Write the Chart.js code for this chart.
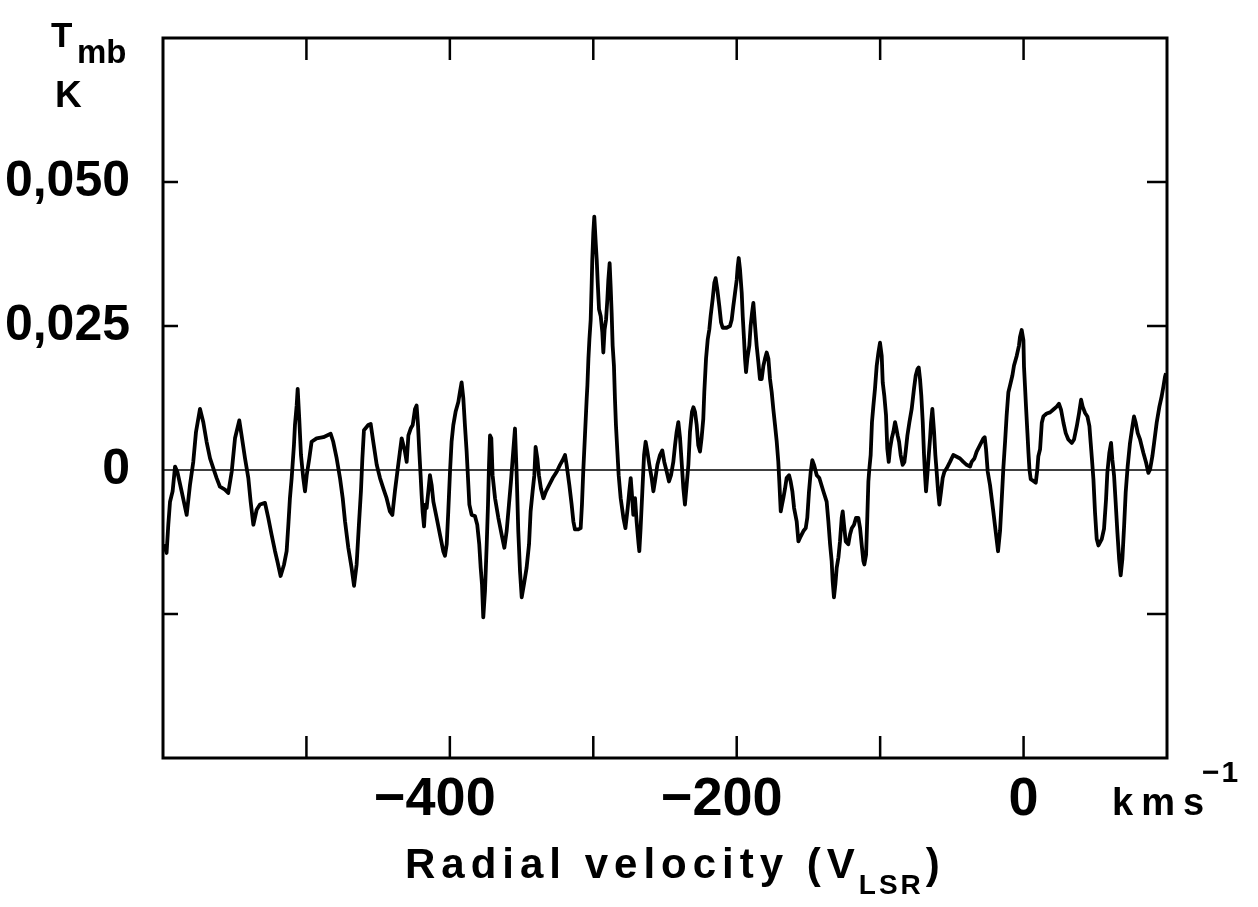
<!DOCTYPE html>
<html>
<head>
<meta charset="utf-8">
<title>Tmb spectrum</title>
<script src="https://cdn.jsdelivr.net/npm/chart.js@4.4.1/dist/chart.umd.min.js"></script>
<style>
  html, body { margin: 0; padding: 0; background: #fff; }
  canvas { display: block; }
</style>
</head>
<body>
<canvas id="spectrum" width="1258" height="907"></canvas>
<script>
// radial velocity (km/s) and main beam temperature (K)
const velocity = [
  -599.3, -597.5, -596.3, -595.1, -593.3, -591.6, -590.0, -587.0, -583.5, -581.2,
  -578.9, -577.0, -574.2, -571.9, -569.6, -567.2, -564.9, -562.6, -560.3, -556.8,
  -554.5, -552.1, -549.8, -546.8, -545.2, -542.8, -540.5, -538.9, -537.0, -534.7,
  -532.4, -528.9, -526.6, -524.3, -521.9, -520.3, -518.0, -515.6, -513.8, -512.6,
  -511.5, -510.3, -508.7, -508.0, -506.8, -506.1, -505.0, -503.8, -502.2, -501.0,
  -499.8, -498.0, -496.4, -492.9, -488.2, -483.1, -481.3, -478.9, -476.6, -474.7,
  -473.1, -470.8, -468.5, -466.8, -465.0, -463.4, -462.0, -461.0, -459.9, -456.9,
  -455.2, -453.4, -451.0, -448.7, -446.4, -444.1, -441.8, -440.1, -438.3, -436.6,
  -434.8, -433.6, -432.4, -431.3, -430.1, -428.9, -427.3, -425.9, -424.3, -423.2,
  -422.2, -421.3, -420.4, -419.7, -419.0, -418.0, -417.1, -416.2, -415.0, -413.9,
  -412.7, -411.5, -409.2, -406.9, -404.6, -403.4, -402.2, -401.1, -399.9, -398.8,
  -397.6, -396.0, -394.1, -393.0, -391.8, -390.6, -389.5, -388.3, -387.1, -386.4,
  -384.8, -382.5, -380.9, -379.5, -378.5, -377.6, -376.7, -375.5, -374.3, -373.4,
  -372.7, -372.0, -371.1, -370.2, -368.5, -366.2, -363.9, -362.0, -360.4, -358.8,
  -357.4, -356.2, -354.6, -353.4, -352.3, -351.1, -349.9, -348.3, -346.5, -344.8,
  -343.7, -342.3, -341.1, -340.2, -339.0, -337.9, -336.5, -334.8, -333.0, -330.7,
  -328.3, -325.5, -323.2, -321.4, -319.7, -318.6, -316.7, -315.1, -313.9, -312.8,
  -310.4, -308.8, -307.9, -307.0, -305.8, -304.6, -304.1, -303.4, -302.7, -301.8,
  -301.1, -300.7, -300.0, -299.3, -298.3, -297.6, -296.9, -296.0, -294.8, -293.7,
  -293.0, -292.1, -291.1, -290.2, -289.5, -288.6, -287.9, -287.2, -286.5, -285.6,
  -284.9, -284.2, -283.2, -282.3, -280.9, -279.0, -277.6, -276.0, -274.9, -273.9,
  -273.2, -272.1, -270.9, -269.8, -268.4, -267.9, -267.0, -265.8, -264.6, -263.5,
  -262.3, -260.9, -259.3, -258.1, -257.0, -255.3, -253.5, -251.9, -250.5, -248.8,
  -247.2, -245.8, -244.2, -243.0, -241.9, -240.7, -239.5, -238.4, -237.2, -236.1,
  -234.9, -233.7, -232.6, -231.2, -230.2, -229.1, -227.9, -226.8, -225.6, -224.5,
  -223.3, -222.6, -221.4, -220.2, -219.1, -218.2, -216.8, -215.6, -214.7, -213.5,
  -212.1, -210.9, -209.8, -207.0, -204.7, -203.5, -202.4, -201.2, -200.0, -199.3,
  -198.6, -197.7, -196.5, -195.8, -194.9, -194.2, -193.5, -192.6, -191.2, -190.3,
  -189.3, -188.4, -187.2, -186.1, -184.9, -183.8, -182.6, -181.4, -180.3, -179.1,
  -177.9, -176.8, -175.6, -174.5, -173.3, -172.1, -171.0, -170.3, -169.3, -168.4,
  -167.5, -166.3, -165.2, -163.5, -162.4, -161.2, -160.0, -158.2, -157.0, -155.9,
  -153.5, -151.9, -150.8, -149.6, -148.4, -147.3, -146.1, -144.2, -142.4, -139.6,
  -137.3, -136.1, -134.9, -133.8, -133.1, -132.2, -131.2, -130.3, -129.1, -128.0,
  -126.8, -126.1, -125.2, -124.0, -122.2, -121.0, -119.8, -118.2, -116.8, -115.2,
  -114.0, -112.9, -111.7, -111.0, -109.8, -108.9, -108.2, -107.5, -106.6, -105.7,
  -104.7, -103.6, -102.4, -101.2, -100.1, -98.9, -98.2, -97.1, -95.9, -95.0,
  -94.0, -93.1, -91.9, -90.8, -89.6, -88.9, -87.8, -86.8, -85.7, -84.3,
  -83.1, -82.2, -81.0, -79.6, -78.0, -76.4, -75.2, -74.0, -73.1, -72.2,
  -71.3, -70.3, -69.4, -68.7, -68.0, -67.1, -66.1, -65.2, -64.5, -63.6,
  -62.4, -61.5, -60.6, -59.6, -58.7, -57.5, -56.4, -55.2, -53.6, -51.3,
  -49.0, -46.6, -44.3, -42.0, -39.7, -37.3, -36.2, -34.3, -32.7, -30.4,
  -28.0, -27.1, -26.2, -25.0, -23.4, -21.1, -19.2, -17.8, -16.4, -15.3,
  -14.1, -12.9, -11.8, -10.6, -9.4, -7.8, -6.7, -4.8, -3.2, -2.5,
  -1.3, -0.1, 0.3, 1.0, 1.7, 2.7, 3.4, 4.1, 5.0, 6.8,
  8.5, 9.6, 10.3, 11.5, 12.7, 13.8, 16.1, 18.5, 20.8, 23.1,
  24.7, 26.1, 27.8, 29.4, 31.2, 33.6, 35.2, 37.1, 38.7, 40.1,
  41.2, 42.9, 44.5, 45.9, 46.8, 47.7, 48.7, 49.8, 51.0, 52.2,
  54.5, 56.1, 57.5, 58.4, 59.8, 61.0, 61.9, 63.1, 64.2, 65.4,
  66.6, 67.7, 68.9, 70.1, 71.2, 72.6, 74.2, 75.9, 77.0, 78.2,
  79.6, 81.2, 83.5, 85.4, 87.0, 88.2, 89.8, 91.0, 92.8, 94.7,
  96.3, 97.5, 98.6, 99.3
];

const tmb = [
  -0.0129, -0.0144, -0.0095, -0.0055, -0.0037, 0.0006, -0.0003, -0.0037, -0.0078, -0.0026,
  0.0014, 0.0066, 0.0106, 0.0083, 0.0049, 0.0020, 0.0003, -0.0014, -0.0029, -0.0034,
  -0.0040, -0.0003, 0.0055, 0.0086, 0.0060, 0.0020, -0.0014, -0.0055, -0.0095, -0.0069,
  -0.0060, -0.0057, -0.0083, -0.0112, -0.0141, -0.0158, -0.0184, -0.0164, -0.0141, -0.0095,
  -0.0049, -0.0014, 0.0043, 0.0078, 0.0112, 0.0141, 0.0089, 0.0026, -0.0014, -0.0037,
  -0.0009, 0.0020, 0.0049, 0.0055, 0.0057, 0.0063, 0.0049, 0.0020, -0.0014, -0.0049,
  -0.0089, -0.0135, -0.0170, -0.0201, -0.0164, -0.0095, -0.0037, 0.0020, 0.0069, 0.0078,
  0.0080, 0.0049, 0.0009, -0.0014, -0.0032, -0.0049, -0.0072, -0.0078, -0.0037, -0.0003,
  0.0032, 0.0055, 0.0043, 0.0032, 0.0014, 0.0060, 0.0072, 0.0078, 0.0106, 0.0112,
  0.0078, 0.0032, -0.0009, -0.0043, -0.0072, -0.0098, -0.0060, -0.0066, -0.0037, -0.0009,
  -0.0026, -0.0055, -0.0083, -0.0112, -0.0141, -0.0149, -0.0129, -0.0072, -0.0003, 0.0049,
  0.0078, 0.0101, 0.0118, 0.0135, 0.0152, 0.0124, 0.0078, 0.0032, -0.0026, -0.0060,
  -0.0078, -0.0080, -0.0095, -0.0129, -0.0170, -0.0198, -0.0256, -0.0210, -0.0129, -0.0060,
  0.0009, 0.0060, 0.0055, -0.0009, -0.0049, -0.0083, -0.0112, -0.0135, -0.0106, -0.0060,
  -0.0020, 0.0020, 0.0072, -0.0009, -0.0106, -0.0175, -0.0221, -0.0198, -0.0170, -0.0129,
  -0.0072, -0.0037, -0.0009, 0.0040, 0.0020, -0.0009, -0.0032, -0.0049, -0.0037, -0.0026,
  -0.0014, -0.0003, 0.0009, 0.0017, 0.0026, 0.0009, -0.0026, -0.0060, -0.0089, -0.0103,
  -0.0103, -0.0101, -0.0060, -0.0003, 0.0060, 0.0124, 0.0147, 0.0193, 0.0227, 0.0261,
  0.0325, 0.0365, 0.0411, 0.0440, 0.0394, 0.0365, 0.0325, 0.0279, 0.0267, 0.0239,
  0.0204, 0.0244, 0.0261, 0.0296, 0.0330, 0.0359, 0.0319, 0.0273, 0.0216, 0.0181,
  0.0124, 0.0078, 0.0032, -0.0009, -0.0049, -0.0083, -0.0101, -0.0066, -0.0037, -0.0014,
  -0.0037, -0.0078, -0.0049, -0.0089, -0.0129, -0.0141, -0.0101, -0.0037, 0.0026, 0.0049,
  0.0032, 0.0009, -0.0014, -0.0037, -0.0020, 0.0009, 0.0026, 0.0034, 0.0014, -0.0003,
  -0.0020, -0.0009, 0.0014, 0.0043, 0.0066, 0.0083, 0.0055, 0.0014, -0.0032, -0.0060,
  -0.0026, 0.0009, 0.0066, 0.0101, 0.0109, 0.0101, 0.0078, 0.0043, 0.0032, 0.0055,
  0.0089, 0.0135, 0.0193, 0.0227, 0.0244, 0.0267, 0.0296, 0.0325, 0.0333, 0.0313,
  0.0284, 0.0256, 0.0247, 0.0247, 0.0250, 0.0261, 0.0284, 0.0307, 0.0330, 0.0353,
  0.0368, 0.0348, 0.0307, 0.0267, 0.0227, 0.0193, 0.0170, 0.0193, 0.0216, 0.0250,
  0.0273, 0.0290, 0.0250, 0.0216, 0.0187, 0.0158, 0.0158, 0.0181, 0.0193, 0.0204,
  0.0193, 0.0158, 0.0135, 0.0106, 0.0078, 0.0049, 0.0014, -0.0020, -0.0072, -0.0060,
  -0.0049, -0.0032, -0.0014, -0.0009, -0.0020, -0.0037, -0.0066, -0.0089, -0.0124, -0.0118,
  -0.0106, -0.0101, -0.0083, -0.0037, -0.0003, 0.0017, 0.0009, -0.0009, -0.0014, -0.0037,
  -0.0055, -0.0089, -0.0129, -0.0158, -0.0193, -0.0221, -0.0198, -0.0170, -0.0152, -0.0124,
  -0.0083, -0.0072, -0.0095, -0.0124, -0.0129, -0.0112, -0.0101, -0.0095, -0.0083, -0.0083,
  -0.0101, -0.0129, -0.0158, -0.0164, -0.0147, -0.0078, -0.0020, 0.0003, 0.0026, 0.0083,
  0.0112, 0.0141, 0.0181, 0.0204, 0.0221, 0.0198, 0.0152, 0.0129, 0.0095, 0.0037,
  0.0014, 0.0037, 0.0055, 0.0066, 0.0083, 0.0075, 0.0060, 0.0049, 0.0026, 0.0009,
  0.0014, 0.0032, 0.0060, 0.0083, 0.0106, 0.0141, 0.0164, 0.0175, 0.0178, 0.0158,
  0.0129, 0.0083, 0.0026, -0.0009, -0.0037, -0.0009, 0.0026, 0.0055, 0.0083, 0.0106,
  0.0066, 0.0026, -0.0003, -0.0037, -0.0060, -0.0037, -0.0014, -0.0003, 0.0003, 0.0014,
  0.0026, 0.0023, 0.0020, 0.0014, 0.0009, 0.0006, 0.0014, 0.0020, 0.0032, 0.0043,
  0.0055, 0.0057, 0.0037, -0.0003, -0.0026, -0.0072, -0.0112, -0.0141, -0.0106, -0.0055,
  0.0003, 0.0049, 0.0095, 0.0135, 0.0147, 0.0164, 0.0181, 0.0198, 0.0216, 0.0231,
  0.0243, 0.0225, 0.0179, 0.0145, 0.0110, 0.0064, 0.0030, 0.0001, -0.0016, -0.0019,
  -0.0022, 0.0001, 0.0024, 0.0036, 0.0082, 0.0093, 0.0098, 0.0100, 0.0105, 0.0110,
  0.0115, 0.0105, 0.0082, 0.0064, 0.0053, 0.0047, 0.0053, 0.0076, 0.0099, 0.0122,
  0.0110, 0.0099, 0.0093, 0.0076, 0.0047, 0.0018, -0.0016, -0.0073, -0.0120, -0.0131,
  -0.0120, -0.0102, -0.0051, -0.0005, 0.0030, 0.0047, 0.0018, -0.0010, -0.0056, -0.0108,
  -0.0154, -0.0183, -0.0154, -0.0097, -0.0039, 0.0007, 0.0047, 0.0076, 0.0093, 0.0082,
  0.0064, 0.0053, 0.0030, 0.0013, -0.0005, 0.0001, 0.0024, 0.0047, 0.0082, 0.0110,
  0.0128, 0.0145, 0.0162, 0.0168
];

// axes
const xTickValues = [-500, -400, -300, -200, -100, 0];
const xLabelValues = [-400, -200, 0];
const xLabelTexts = ['\u2212400', '\u2212200', '0'];
const yTickValues = [0.05, 0.025, -0.025];
const yLabelValues = [0.05, 0.025, 0];
const yLabelTexts = ['0,050', '0,025', '0'];

const FONT = '"Liberation Sans", Arial, Helvetica, sans-serif';

const points = velocity.map((v, i) => ({ x: v, y: tmb[i] }));
const baseline = [{ x: -600, y: 0 }, { x: 100, y: 0 }];

// frame, inward ticks and the axis titles
const framePlugin = {
    id: 'frame',
    afterDatasetsDraw(chart) {
        const ctx = chart.ctx;
        const { left, right, top, bottom } = chart.chartArea;
        const xs = chart.scales.x;
        const ys = chart.scales.y;
        ctx.save();
        ctx.strokeStyle = '#000';
        ctx.lineWidth = 3;
        ctx.strokeRect(left, top, right - left, bottom - top);

        ctx.lineWidth = 2.5;
        ctx.beginPath();
        xTickValues.forEach(v => {
            const px = xs.getPixelForValue(v);
            ctx.moveTo(px, bottom); ctx.lineTo(px, bottom - 22);
            ctx.moveTo(px, top); ctx.lineTo(px, top + 22);
        });
        yTickValues.forEach(t => {
            const py = ys.getPixelForValue(t);
            ctx.moveTo(left, py); ctx.lineTo(left + 15, py);
            ctx.moveTo(right, py); ctx.lineTo(right - 20, py);
        });
        ctx.stroke();

        ctx.fillStyle = '#000';
        ctx.textBaseline = 'alphabetic';
        ctx.textAlign = 'left';

        // T_mb / K
        ctx.font = 'bold 35px ' + FONT;
        ctx.fillText('T', 51, 47);
        ctx.font = 'bold 33px ' + FONT;
        ctx.fillText('mb', 77, 63);
        ctx.font = 'bold 37px ' + FONT;
        ctx.fillText('K', 55, 107);

        // km s^-1
        ctx.letterSpacing = '8px';
        ctx.font = 'bold 38px ' + FONT;
        ctx.fillText('kms', 1112, 815);
        ctx.letterSpacing = '2px';
        ctx.font = 'bold 30px ' + FONT;
        ctx.fillText('\u22121', 1202, 782);

        // Radial velocity (V_LSR)
        ctx.letterSpacing = '6px';
        ctx.font = 'bold 42px ' + FONT;
        const main = 'Radial velocity (V';
        ctx.fillText(main, 405, 878);
        let x = 405 + ctx.measureText(main).width;
        ctx.letterSpacing = '3px';
        ctx.font = 'bold 28px ' + FONT;
        ctx.fillText('LSR', x - 2, 894);
        x += ctx.measureText('LSR').width - 2;
        ctx.letterSpacing = '0px';
        ctx.font = 'bold 42px ' + FONT;
        ctx.fillText(')', x + 2, 878);
        ctx.restore();
    }
};

new Chart(document.getElementById('spectrum'), {
    type: 'line',
    data: {
        datasets: [
            {
                data: points,
                borderColor: '#000',
                borderWidth: 3.8,
                borderJoinStyle: 'round',
                pointRadius: 0,
                tension: 0,
                fill: false
            },
            {
                data: baseline,
                borderColor: '#000',
                borderWidth: 1.5,
                pointRadius: 0,
                fill: false
            }
        ]
    },
    options: {
        responsive: false,
        animation: false,
        devicePixelRatio: 1,
        layout: { padding: { top: 38, right: 91, left: 0, bottom: 0 } },
        plugins: { legend: { display: false }, tooltip: { enabled: false } },
        scales: {
            x: {
                type: 'linear',
                min: -600,
                max: 100,
                afterFit(scale) {
                    scale.height = 149;
                    scale.paddingLeft = 0;
                    scale.paddingRight = 0;
                },
                grid: { display: false, drawTicks: false },
                border: { display: false },
                ticks: {
                    stepSize: 100,
                    autoSkip: false,
                    maxRotation: 0,
                    padding: 10,
                    color: '#000',
                    font: { family: FONT, size: 54, weight: 'bold' },
                    callback(value) {
                        const i = xLabelValues.indexOf(value);
                        if (i < 0) return '';
                        const t = xLabelTexts[i];
                        // pad so the digits, not the minus sign, sit on the tick
                        return t.startsWith('\u2212') ? t + '  ' : t;
                    }
                }
            },
            y: {
                type: 'linear',
                min: -0.05,
                max: 0.075,
                afterFit(scale) {
                    scale.width = 163;
                    scale.paddingTop = 0;
                    scale.paddingBottom = 0;
                },
                grid: { display: false, drawTicks: false },
                border: { display: false },
                ticks: {
                    stepSize: 0.025,
                    autoSkip: false,
                    padding: 33,
                    color: '#000',
                    font: { family: FONT, size: 50, weight: 'bold' },
                    callback(value) {
                        const i = yLabelValues.findIndex(t => Math.abs(t - value) < 1e-9);
                        return i < 0 ? '' : yLabelTexts[i];
                    }
                }
            }
        }
    },
    plugins: [framePlugin]
});
</script>
</body>
</html>
